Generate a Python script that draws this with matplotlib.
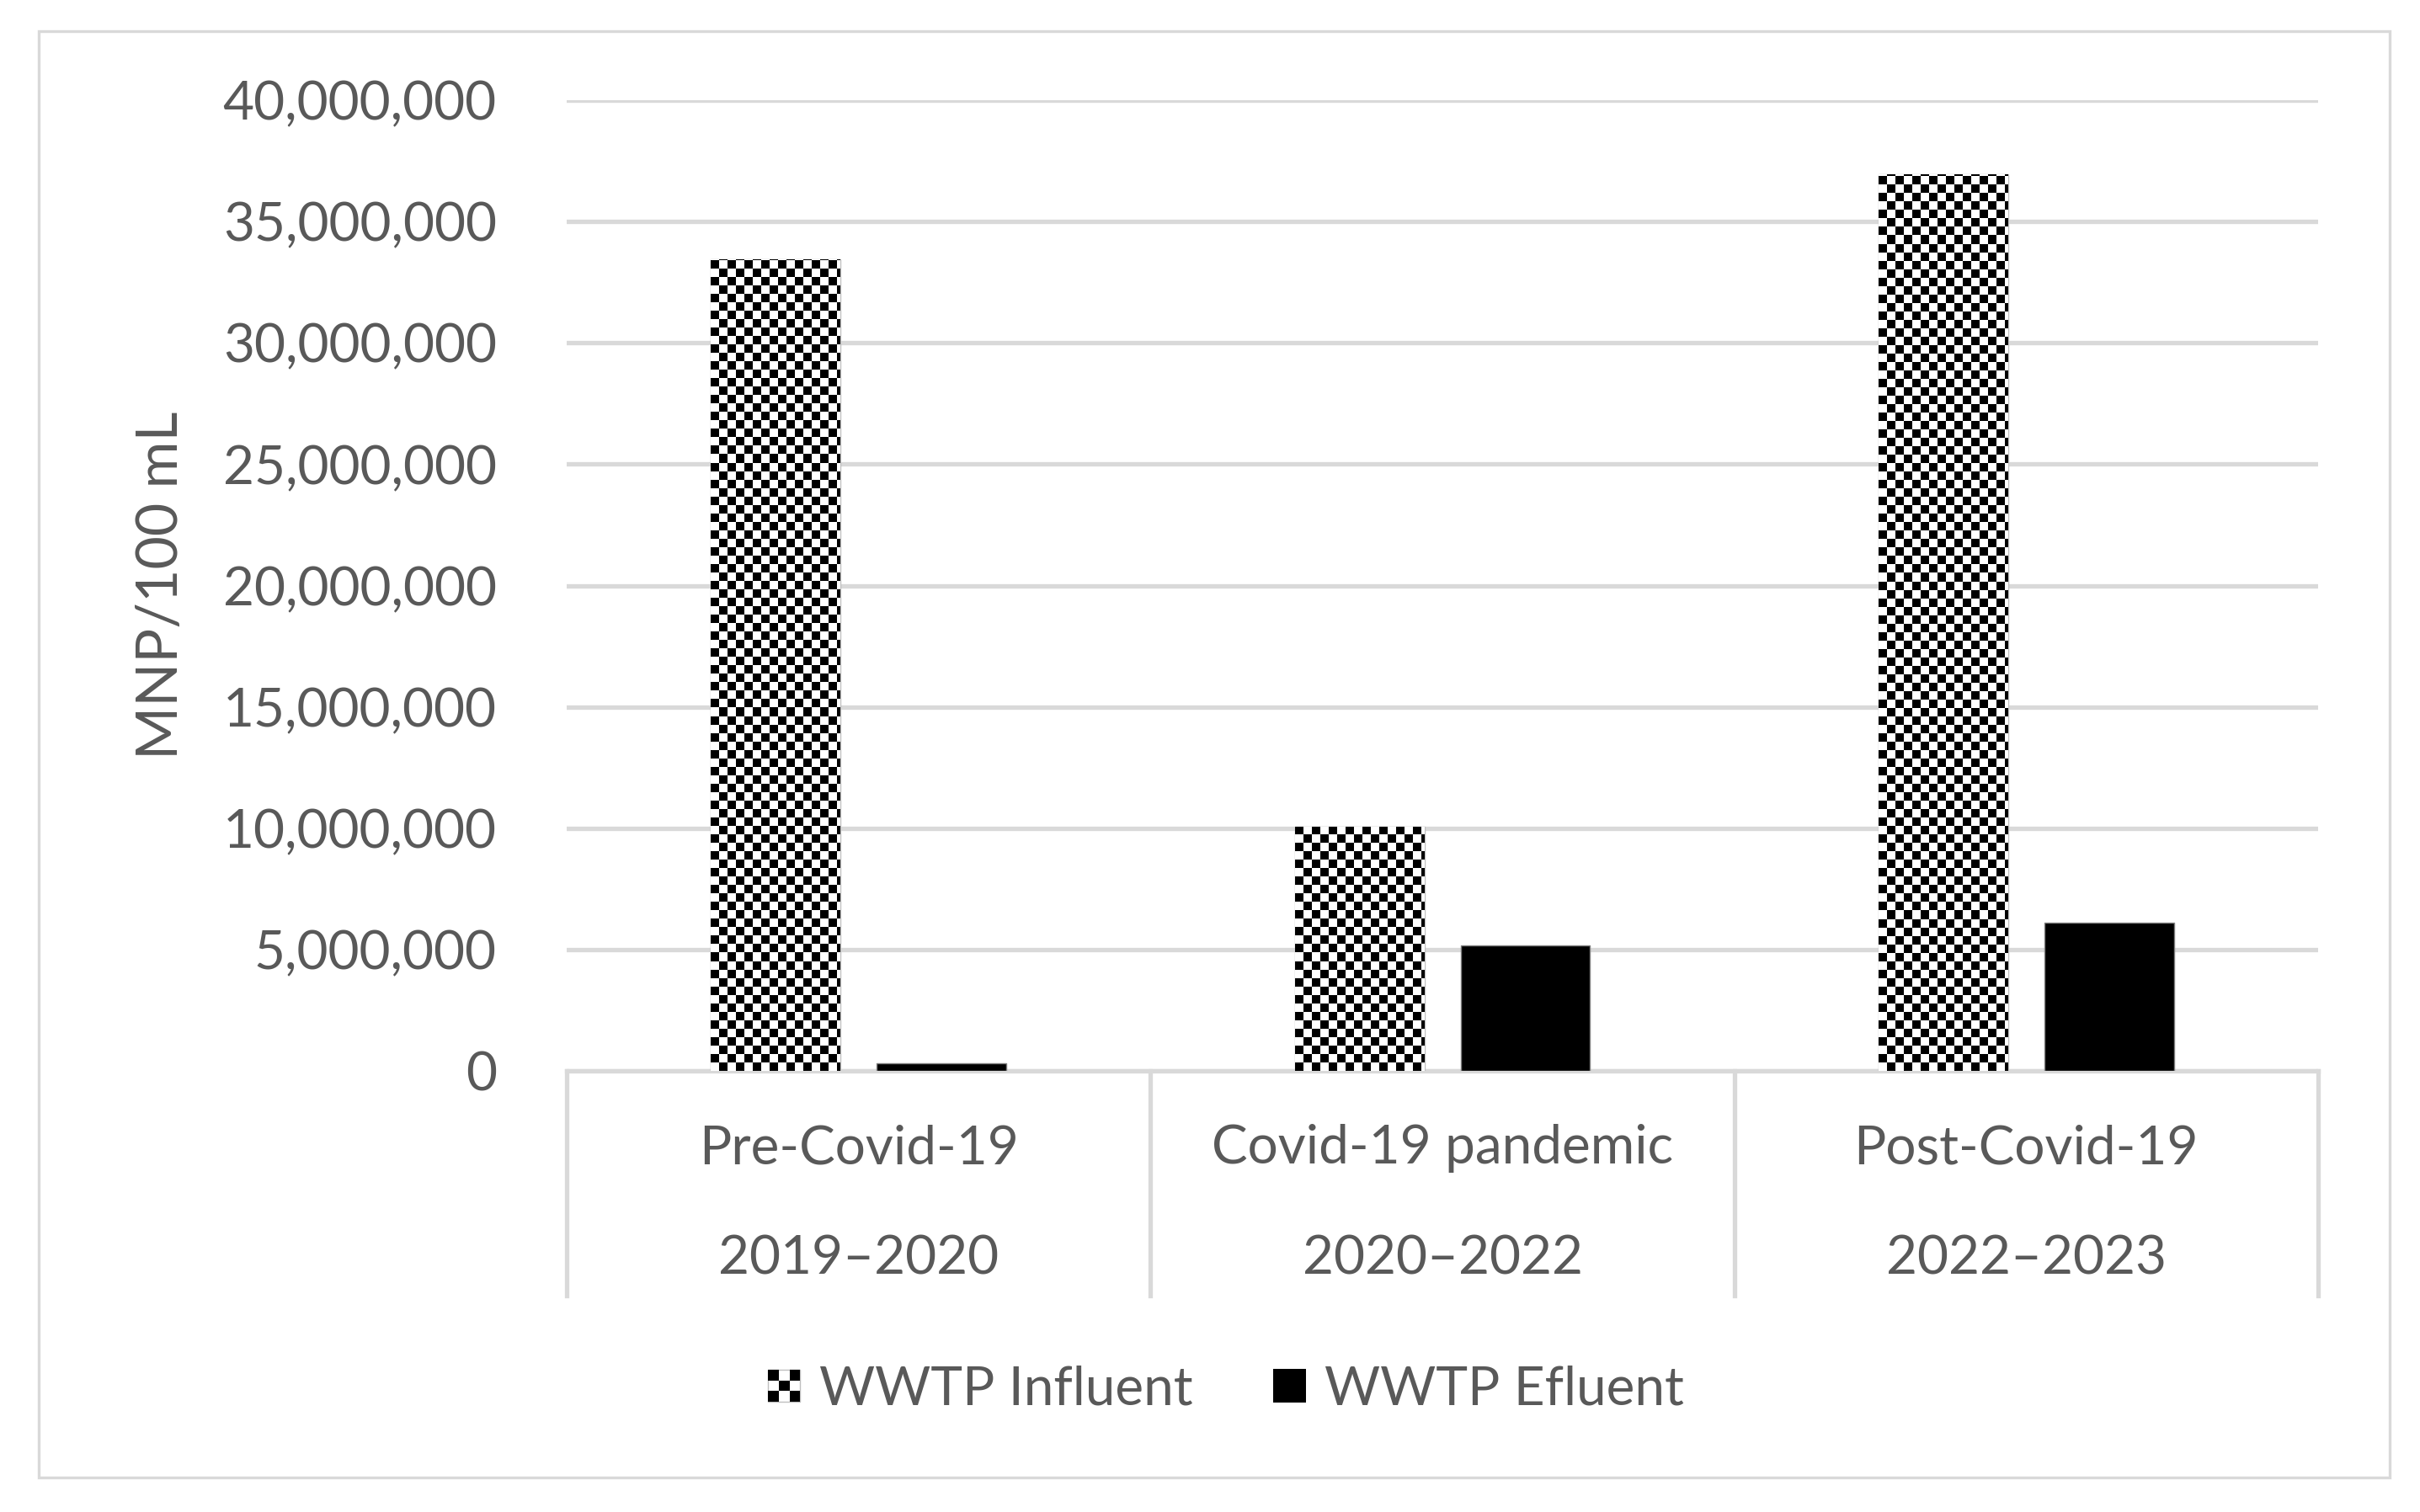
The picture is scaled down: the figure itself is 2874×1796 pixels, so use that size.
import matplotlib
matplotlib.use('Agg')
import matplotlib.pyplot as plt
import numpy as np
from matplotlib.patches import Rectangle
from matplotlib.legend_handler import HandlerBase
from matplotlib.ticker import FuncFormatter

# data (MNP/100 mL)
periods = ['Pre-Covid-19', 'Covid-19 pandemic', 'Post-Covid-19']
years = ['2019–2020', '2020–2022', '2022–2023']
influent = [33_450_000, 10_050_000, 36_950_000]
effluent = [320_000, 5_150_000, 6_100_000]
series_names = ['WWTP Influent', 'WWTP Efluent']

plt.rcParams['font.family'] = ['Lato', 'DejaVu Sans']
TXT = '#595959'
GRID = '#d9d9d9'
FS = 23


class CheckerHandler(HandlerBase):
    # small checkerboard square for the legend
    def create_artists(self, legend, orig_handle, xdescent, ydescent,
                       width, height, fontsize, trans):
        n = 3
        s = min(width, height)
        x0 = -xdescent + (width - s) / 2
        y0 = -ydescent + (height - s) / 2
        arts = [Rectangle((x0, y0), s, s, facecolor='white', edgecolor='#bfbfbf',
                          lw=0.5, transform=trans)]
        c = s / n
        for i in range(n):
            for j in range(n):
                if (i + j) % 2 == 0:
                    arts.append(Rectangle((x0 + i * c, y0 + j * c), c, c,
                                          facecolor='black', edgecolor='none',
                                          transform=trans))
        return arts


fig = plt.figure(figsize=(14.37, 8.98), dpi=200)
ax = fig.add_axes([0.2342, 0.2918, 0.7237, 0.6419])

x = np.arange(len(periods))
w = 0.222
off = 0.142
inf_bars = ax.bar(x - off, influent, w, color='white', edgecolor='#bfbfbf',
                  linewidth=0.5, zorder=3)
eff_bars = ax.bar(x + off, effluent, w, color='black', edgecolor='#7f7f7f',
                  linewidth=0.5, zorder=3)

# checkerboard fill, ~10 px cells, clipped to each influent bar
ax_w = 2874 * 0.7237
ax_h = 1796 * 0.6419
nx, ny = int(ax_w / 10), int(ax_h / 10)
checker = (np.add.outer(np.arange(ny), np.arange(nx)) % 2).astype(float)
for bar in inf_bars:
    im = ax.imshow(checker, cmap='gray', vmin=0, vmax=1, extent=[0, 1, 0, 1],
                   transform=ax.transAxes, interpolation='nearest',
                   aspect='auto', zorder=3.5)
    im.set_clip_path(bar)

ax.set_xlim(-0.5, 2.5)
ax.set_ylim(0, 40_000_000)
ax.set_yticks(np.arange(0, 40_000_001, 5_000_000))
ax.yaxis.set_major_formatter(FuncFormatter(lambda v, _: f'{int(v):,}'))
ax.tick_params(axis='y', length=0, pad=30, labelsize=FS, labelcolor=TXT)
ax.set_xticks([])
ax.yaxis.grid(True, color=GRID, lw=1.9)
ax.set_axisbelow(True)
for sp in ['top', 'right', 'left']:
    ax.spines[sp].set_visible(False)
ax.spines['bottom'].set_color(GRID)
ax.spines['bottom'].set_linewidth(1.9)

# two-level category axis
xt = ax.get_xaxis_transform()
for i in range(len(periods)):
    ax.text(x[i], -0.08, periods[i], transform=xt, ha='center', va='center',
            fontsize=FS, color=TXT)
    ax.text(x[i], -0.194, years[i], transform=xt, ha='center', va='center',
            fontsize=FS, color=TXT)
for b in [-0.5, 0.5, 1.5, 2.5]:
    ax.plot([b, b], [0, -0.232], transform=xt, color=GRID, lw=1.9,
            clip_on=False)

fig.text(0.0668, 0.613, 'MNP/100 mL', rotation=90, ha='center', va='center',
         fontsize=24.5, color=TXT)

inf_handle = Rectangle((0, 0), 1, 1, facecolor='white', label=series_names[0])
eff_handle = Rectangle((0, 0), 1, 1, facecolor='black', label=series_names[1])
leg = fig.legend(handles=[inf_handle, eff_handle], loc='center',
                 bbox_to_anchor=(0.5066, 0.081), ncol=2, frameon=False,
                 fontsize=FS, handlelength=0.6, handleheight=0.6,
                 handletextpad=0.35, columnspacing=1.5,
                 handler_map={inf_handle: CheckerHandler()})
for t in leg.get_texts():
    t.set_color(TXT)

fig.add_artist(Rectangle((0.016, 0.023), 0.9715, 0.9564,
                         transform=fig.transFigure, fill=False,
                         edgecolor=GRID, lw=1.2))

fig.savefig('out.png', dpi=200)
